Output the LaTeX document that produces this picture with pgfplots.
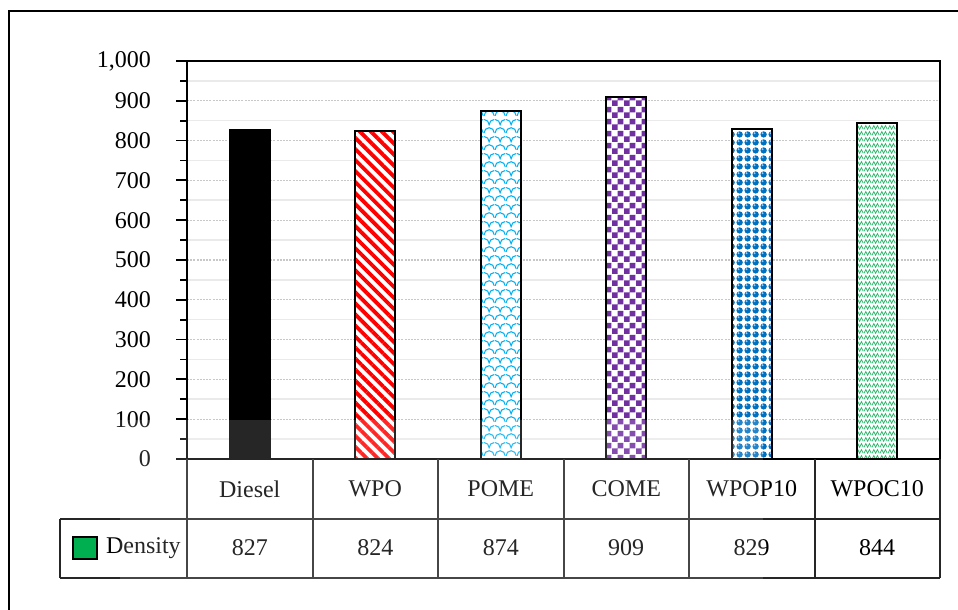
\documentclass[border=0pt]{standalone}
\usepackage{pgfplots}
\pgfplotsset{compat=1.18}
\usepackage{pgfplotstable}
\usepackage{fontspec}
\setmainfont{Liberation Serif}
\usetikzlibrary{patterns,patterns.meta}

\definecolor{cWPO}{RGB}{255,0,0}
\definecolor{cPOME}{RGB}{0,176,240}
\definecolor{cCOME}{RGB}{112,48,160}
\definecolor{cWPOP}{RGB}{0,112,192}
\definecolor{cWPOC}{RGB}{0,176,80}
\definecolor{majgrid}{RGB}{200,200,200}
\definecolor{mingrid}{RGB}{234,234,234}
\definecolor{sphereHi}{RGB}{150,200,240}

% checkerboard fill
\pgfdeclarepattern{
  name=checks, type=uncolored,
  bottom left={\pgfpointorigin},
  top right={\pgfpoint{6pt}{6pt}},
  tile size={\pgfpoint{6pt}{6pt}},
  code={
    \pgfpathrectangle{\pgfpointorigin}{\pgfpoint{3pt}{3pt}}
    \pgfpathrectangle{\pgfpoint{3pt}{3pt}}{\pgfpoint{3pt}{3pt}}
    \pgfusepath{fill}
  }
}
% fish-scale fill (arcs bulging upward, rows offset by half a scale)
\pgfdeclarepattern{
  name=scales, type=uncolored,
  bottom left={\pgfpointorigin},
  top right={\pgfpoint{5.5pt}{8.6pt}},
  tile size={\pgfpoint{5.5pt}{8.6pt}},
  code={
    \pgfsetlinewidth{0.55pt}
    \pgfpathmoveto{\pgfpoint{0pt}{0pt}}
    \pgfpatharc{180}{0}{2.75pt}
    \pgfpathmoveto{\pgfpoint{0pt}{7.05pt}}
    \pgfpatharc{90}{0}{2.75pt}
    \pgfpatharc{180}{90}{2.75pt}
    \pgfusepath{stroke}
  }
}
% sphere fill
\pgfdeclarepattern{
  name=spheres, type=colored,
  bottom left={\pgfpointorigin},
  top right={\pgfpoint{4pt}{4pt}},
  tile size={\pgfpoint{4pt}{4pt}},
  code={
    \pgfsetfillcolor{cWPOP}
    \pgfpathcircle{\pgfpoint{2pt}{2pt}}{1.75pt}
    \pgfusepath{fill}
    \pgfsetfillcolor{sphereHi}
    \pgfpathcircle{\pgfpoint{1.4pt}{2.7pt}}{0.6pt}
    \pgfusepath{fill}
  }
}
% zigzag weave fill
\pgfdeclarepattern{
  name=weave, type=uncolored,
  bottom left={\pgfpointorigin},
  top right={\pgfpoint{4pt}{3pt}},
  tile size={\pgfpoint{4pt}{3pt}},
  code={
    \pgfsetlinewidth{0.45pt}
    \pgfpathmoveto{\pgfpoint{0pt}{0.5pt}}
    \pgfpathlineto{\pgfpoint{1pt}{2.5pt}}
    \pgfpathlineto{\pgfpoint{2pt}{0.5pt}}
    \pgfpathlineto{\pgfpoint{3pt}{2.5pt}}
    \pgfpathlineto{\pgfpoint{4pt}{0.5pt}}
    \pgfusepath{stroke}
  }
}

\pgfplotstableread{
idx name   density
0   Diesel 827
1   WPO    824
2   POME   874
3   COME   909
4   WPOP10 829
5   WPOC10 844
}\fueltable

\newcommand{\chartfont}{\fontsize{12}{14.4}\selectfont}

\begin{document}
\begin{tikzpicture}[font=\chartfont]
\path[use as bounding box] (0,0) rectangle (479pt,305pt);
\begin{axis}[
  at={(93.5pt,75.5pt)}, anchor=south west,
  scale only axis, width=376.5pt, height=199pt,
  xmin=-0.5, xmax=5.5, ymin=0, ymax=1000,
  xtick=\empty,
  ytick distance=100, minor y tick num=1,
  ymajorgrids, yminorgrids,
  major grid style={majgrid, line width=0.55pt, dash pattern=on 1pt off 0.6pt},
  minor grid style={mingrid, line width=0.8pt},
  tick align=outside, ytick pos=left,
  major tick length=5.5pt, minor tick length=3.5pt,
  every tick/.style={black, line width=0.9pt},
  axis line style={black, line width=0.9pt},
  yticklabel style={font=\chartfont, xshift=-9pt},
  /pgf/number format/assume math mode=true,
  /pgf/number format/1000 sep={,},
  clip=false,
  every axis plot/.append style={bar width=20pt, bar shift=0pt},
]
\addplot[ybar, draw=black, line width=0.8pt, fill=black,
  restrict x to domain=-0.2:0.2] table[x=idx, y=density]{\fueltable};
\addplot[ybar, draw=black, line width=0.8pt, fill=white,
  postaction={pattern={Lines[angle=-45, distance=3.9pt, line width=1.9pt]}, pattern color=cWPO},
  restrict x to domain=0.8:1.2] table[x=idx, y=density]{\fueltable};
\addplot[ybar, draw=black, line width=0.8pt, fill=white,
  postaction={pattern=scales, pattern color=cPOME},
  restrict x to domain=1.8:2.2] table[x=idx, y=density]{\fueltable};
\addplot[ybar, draw=black, line width=0.8pt, fill=white,
  postaction={pattern=checks, pattern color=cCOME},
  restrict x to domain=2.8:3.2] table[x=idx, y=density]{\fueltable};
\addplot[ybar, draw=black, line width=0.8pt, fill=white,
  postaction={pattern=spheres},
  restrict x to domain=3.8:4.2] table[x=idx, y=density]{\fueltable};
\addplot[ybar, draw=black, line width=0.8pt, fill=white,
  postaction={pattern=weave, pattern color=cWPOC!85},
  restrict x to domain=4.8:5.2] table[x=idx, y=density]{\fueltable};

% data table rows beneath the plot: names, then values
\addplot[draw=none, mark=none, nodes near coords={\pgfplotspointmeta},
  point meta=explicit symbolic,
  every node near coord/.style={anchor=center, black, font=\chartfont}]
  table[x=idx, y expr=-75.4, meta=name]{\fueltable};
\addplot[draw=none, mark=none, nodes near coords={\pgfplotspointmeta},
  point meta=explicit symbolic,
  every node near coord/.style={anchor=center, black, font=\chartfont}]
  table[x=idx, y expr=-223.6, meta=density]{\fueltable};
\end{axis}

\begin{scope}[x=0.5pt, y=0.5pt]
  % outer frame
  \draw[black, line width=1pt] (9,0) -- (9,599) -- (958,599);
  % data table grid
  \draw[black!85, line width=1pt]
    (60,91) -- (940,91)
    (60,32) -- (940,32)
    (60,91) -- (60,32)
    (187,151) -- (187,32);
  \foreach \xx in {313,438,564,689,815,940}
    \draw[black!85, line width=1pt] (\xx,151) -- (\xx,32);
  % legend key
  \draw[black, line width=0.8pt, fill=cWPOC] (73,51) rectangle (97,73);
  \node[anchor=west] at (99,62) {Density};
  % faint light overlay near the bottom
  \fill[white, opacity=0.15] (120,0) rectangle (763,190);
\end{scope}
\end{tikzpicture}
\end{document}
